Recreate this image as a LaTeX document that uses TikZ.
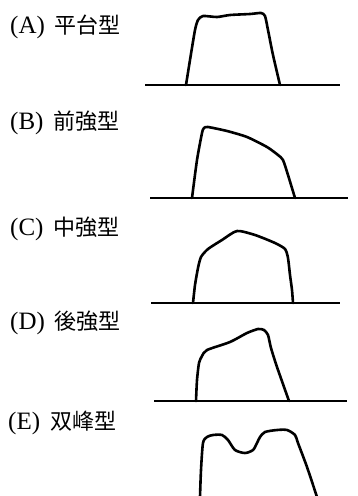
\documentclass[tikz,border=0pt]{standalone}
\usepackage{fontspec}
\setmainfont{Liberation Serif}
\newfontfamily\cjk{Noto Sans CJK JP}
\begin{document}
\begin{tikzpicture}[x=1pt,y=-1pt,
  curve/.style={line width=2.6pt, line join=round, line cap=round},
  base/.style={line width=1.4pt},
  lbl/.style={anchor=west, inner sep=0pt, font=\fontsize{25}{25}\selectfont}]
\useasboundingbox (0,0) rectangle (357,496);
% labels
\node[lbl] (la) at (10,27) {(A)\hspace{10pt}{\cjk\fontsize{22}{22}\selectfont 平台型}};
\node[lbl] (lb) at (10,123) {(B)\hspace{10pt}{\cjk\fontsize{22}{22}\selectfont 前強型}};
\node[lbl] (lc) at (10,229) {(C)\hspace{10pt}{\cjk\fontsize{22}{22}\selectfont 中強型}};
\node[lbl] (ld) at (10,323) {(D)\hspace{10pt}{\cjk\fontsize{22}{22}\selectfont 後強型}};
\node[lbl] (le) at (8,423) {(E)\hspace{10pt}{\cjk\fontsize{22}{22}\selectfont 双峰型}};
% baselines
\draw[base] (145,85) -- (340,85);
\draw[base] (150,198) -- (348,198);
\draw[base] (151,303) -- (340,303);
\draw[base] (154,401) -- (347,401);
% A
\draw[curve] plot[smooth, tension=0.4] coordinates {(186,85) (190,60) (195,30) (198,20) (203,16) (217,17) (230,15) (250,14) (261,13) (265,16) (268,30) (273,55) (280,85)};
% B
\draw[curve] plot[smooth, tension=0.4] coordinates {(192,198) (197,160) (202,133) (204,128) (208,127) (227,131) (247,137) (267,147) (278,155) (283,160) (288,175) (295,198)};
% C
\draw[curve] plot[smooth, tension=0.4] coordinates {(193,303) (195,285) (198,268) (201,257) (208,249) (222,240) (237,231) (255,235) (275,243) (285,249) (288,258) (290,275) (292,290) (293,303)};
% D
\draw[curve] plot[smooth, tension=0.4] coordinates {(196,401) (197,380) (199,363) (202,356) (207,350) (230,342) (247,333) (258,329) (264,330) (268,335) (271,348) (277,367) (289,401)};
% E
\draw[curve] plot[smooth, tension=0.45] coordinates {(200,497) (201,470) (203,443) (207,437) (213,435) (222,435) (228,440) (235,450) (245,453) (253,450) (257,443) (260,437) (265,432) (277,430) (287,430) (295,435) (298,443) (307,467) (317,497)};
\end{tikzpicture}
\end{document}
